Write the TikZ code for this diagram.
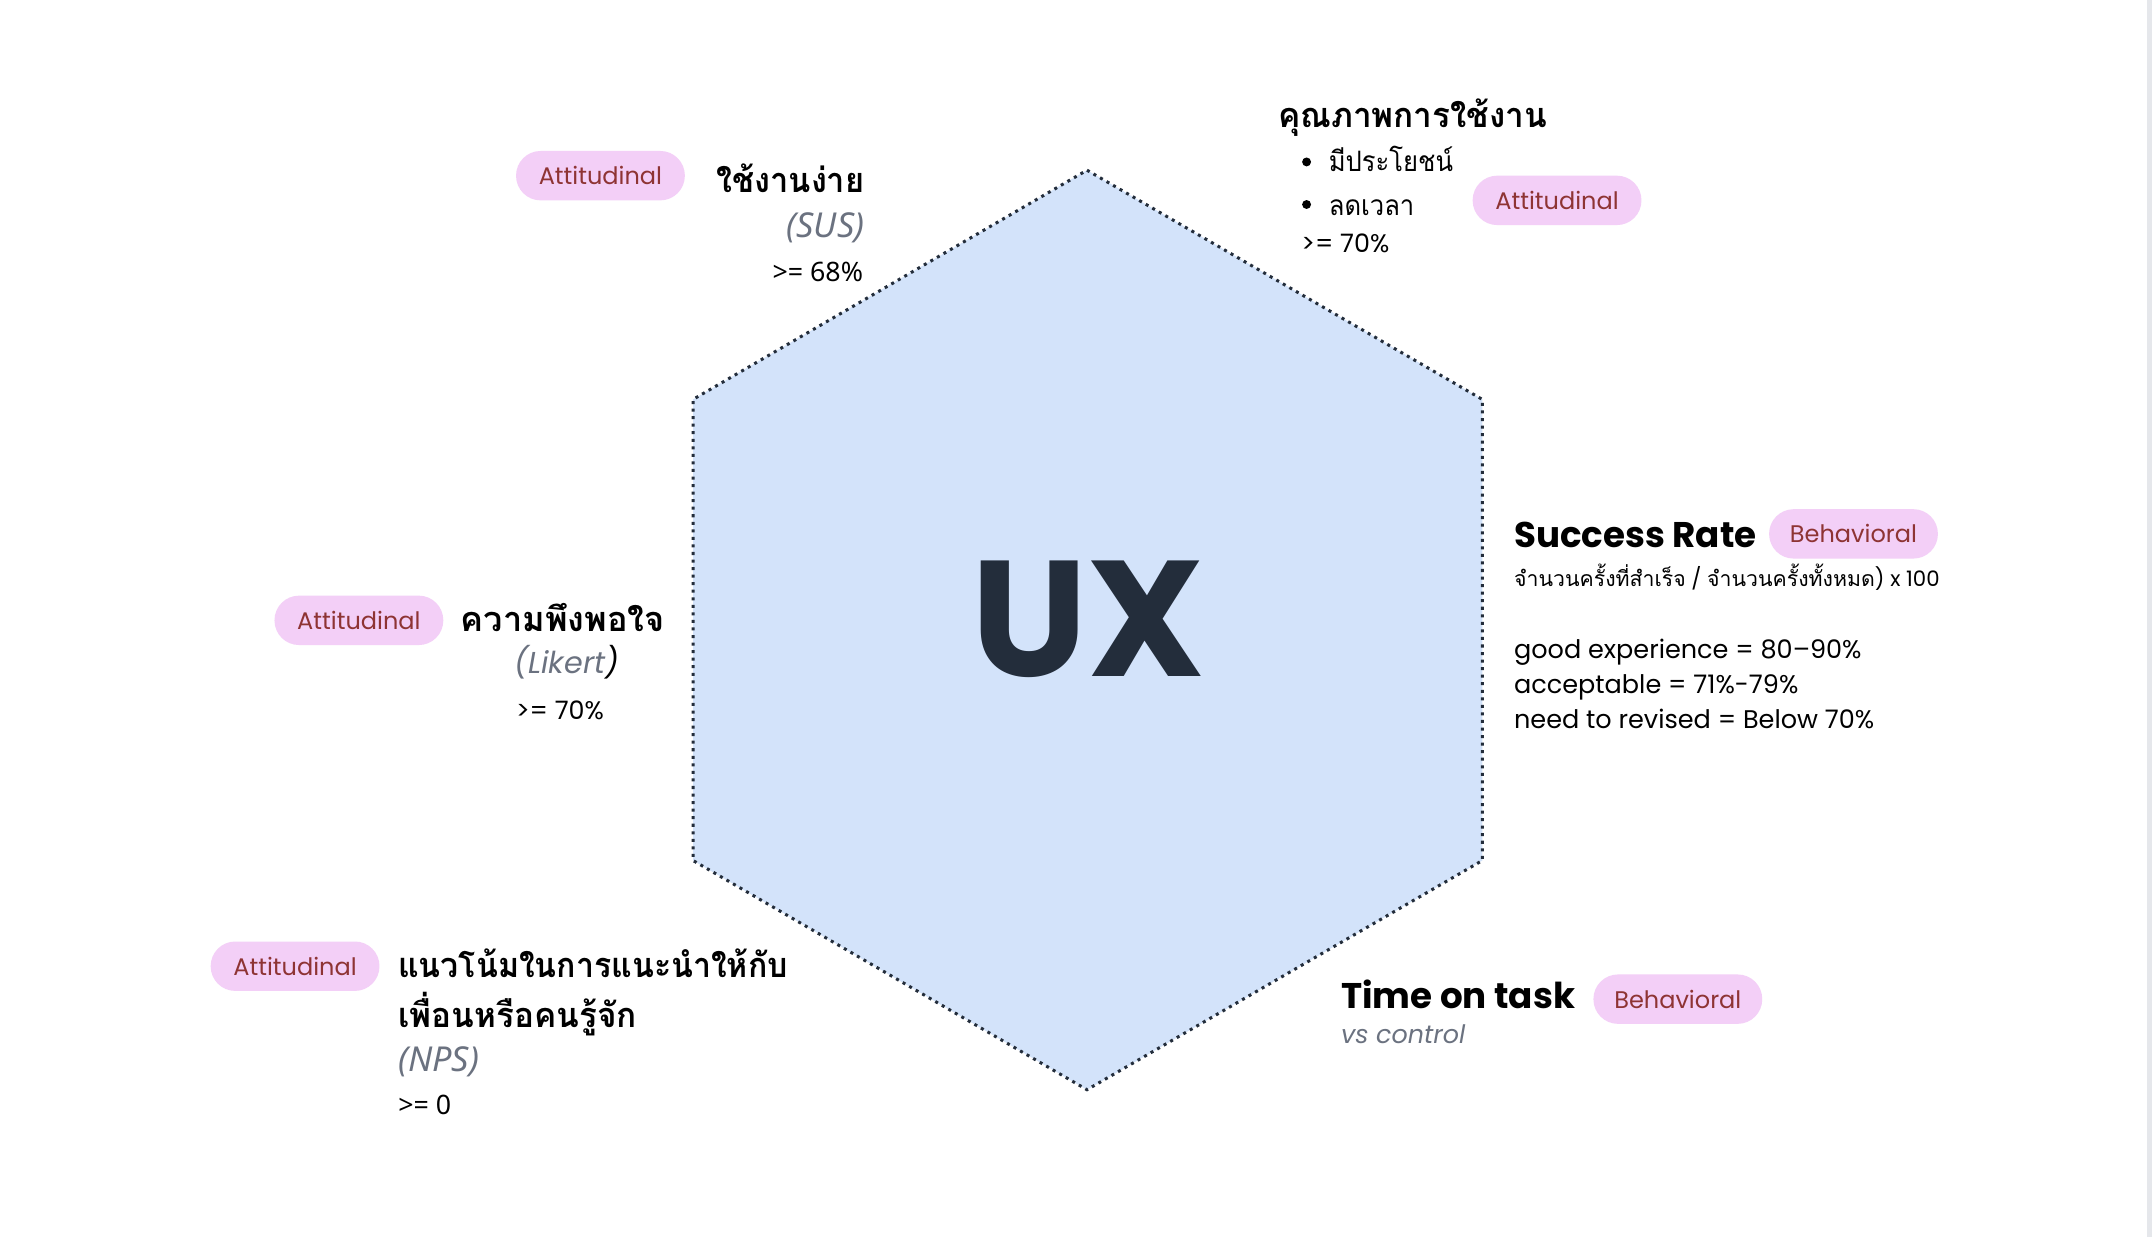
\documentclass[tikz,border=0pt]{standalone}
\usepackage{fontspec}
\setmainfont{Poppins}
\newfontfamily\thai[Script=Thai]{Loma}
\newfontfamily\noto{Noto Sans}
\definecolor{hexfill}{HTML}{D3E3FA}
\definecolor{hexline}{HTML}{232D3B}
\definecolor{uxcol}{HTML}{232D3B}
\definecolor{pillbg}{HTML}{F3CFF7}
\definecolor{pilltx}{HTML}{8E3434}
\definecolor{subgray}{HTML}{6B7280}
\definecolor{barg}{HTML}{E5E7EB}
\newcommand{\hsq}[2]{\scalebox{#1}[1]{#2}}
\begin{document}
\begin{tikzpicture}[x=1pt,y=-1pt,
  pill/.style={rectangle, rounded corners=17.9pt, fill=pillbg, text=pilltx, minimum height=36pt, minimum width=123pt, inner sep=0pt, font=\fontsize{17.5}{20}\selectfont},
  thtitle/.style={inner sep=0pt, font=\thai\bfseries\fontsize{25}{30}\selectfont},
  entitle/.style={inner sep=0pt, font=\bfseries\fontsize{26}{30}\selectfont},
  sub/.style={inner sep=0pt, text=subgray, font=\itshape\fontsize{22}{26}\selectfont},
  val/.style={inner sep=0pt, font=\fontsize{18.5}{22}\selectfont},
  body/.style={inner sep=0pt, font=\fontsize{18.6}{22}\selectfont},
  bulletdot/.style={circle, fill=black, inner sep=0pt, minimum size=6.5pt},
  hex/.style={fill=hexfill, draw=hexline, line width=2.2pt, dash pattern=on 2.2pt off 3.3pt},
]
\fill[white] (0,0) rectangle (1568,901);
\useasboundingbox (0,0) rectangle (1568,901);
\fill[barg] (1564.5,0) rectangle (1568,901);

% hexagon
\coordinate (h1) at (792,124);
\coordinate (h2) at (1080,291);
\coordinate (h3) at (1080,627);
\coordinate (h4) at (792,794);
\coordinate (h5) at (505,627);
\coordinate (h6) at (505,291);
\filldraw[hex] (h1) -- (h2) -- (h3) -- (h4) -- (h5) -- (h6) -- cycle;
\node[inner sep=0pt, text=uxcol, font=\bfseries\fontsize{120}{130}\selectfont] (ux) at (793,451) {UX};

% top-left: SUS
\node[pill] (p1) at (437.5,128) {Attitudinal};
\node[thtitle, anchor=base east] (t1) at (630,140) {\hsq{0.95}{ใช้งานง่าย}};
\node[sub, font=\noto\itshape\fontsize{25}{28}\selectfont, anchor=base east] (s1) at (630,173) {(SUS)};
\node[val, font=\noto\fontsize{19.5}{22}\selectfont, anchor=base east] (v1) at (629,205) {>= 68\%};

% top-right
\node[thtitle, anchor=base west] (t2) at (931,93) {\hsq{0.97}{คุณภาพการใช้งาน}};
\node[bulletdot] (d1) at (952,118) {};
\node[inner sep=0pt, anchor=base west, font=\thai\fontsize{20.5}{24}\selectfont] (b1) at (968,125) {\hsq{0.91}{มีประโยชน์}};
\node[bulletdot] (d2) at (952,149) {};
\node[inner sep=0pt, anchor=base west, font=\thai\fontsize{20.5}{24}\selectfont] (b2) at (968,157) {\hsq{0.91}{ลดเวลา}};
\node[val, anchor=base west] (v2) at (948,184) {>= 70\%};
\node[pill] (p2) at (1134.5,146) {Attitudinal};

% success rate
\node[entitle, anchor=base west] (t3) at (1103,399) {Success Rate};
\node[pill] (p3) at (1350.5,389) {Behavioral};
\node[inner sep=0pt, anchor=base west, font=\fontsize{15.5}{18}\selectfont] (f3) at (1103,427) {{\thai จำนวนครั้งที่สำเร็จ} / {\thai จำนวนครั้งทั้งหมด}) x 100};
\node[body, anchor=base west] (g3) at (1103,480) {good experience = 80–90\%};
\node[body, anchor=base west] (a3) at (1103,505) {acceptable = 71\%-79\%};
\node[body, anchor=base west] (n3) at (1103,531) {need to revised = Below 70\%};

% left middle: Likert
\node[pill] (p4) at (261.5,452) {Attitudinal};
\node[thtitle, anchor=base] (t4) at (410,460) {ความพึงพอใจ};
\node[sub, anchor=base] (s4) at (413,491) {(Likert\textcolor{black}{)}};
\node[val, anchor=base] (v4) at (408,524) {>= 70\%};

% bottom-left: NPS
\node[pill] (p5) at (215,704) {Attitudinal};
\node[thtitle, anchor=base west] (t5a) at (290,712) {\hsq{0.935}{แนวโน้มในการแนะนำให้กับ}};
\node[thtitle, anchor=base west] (t5b) at (290,749) {\hsq{0.97}{เพื่อนหรือคนรู้จัก}};
\node[sub, font=\noto\itshape\fontsize{25}{28}\selectfont, anchor=base west] (s5) at (290,781) {(NPS)};
\node[val, font=\noto\fontsize{19.5}{22}\selectfont, anchor=base west] (v5) at (290,812) {>= 0};

% time on task
\node[entitle, anchor=base west] (t6) at (977,735) {Time on task};
\node[pill] (p6) at (1222.5,728) {Behavioral};
\node[sub, font=\itshape\fontsize{18.5}{22}\selectfont, anchor=base west] (s6) at (977,760) {vs control};
\end{tikzpicture}
\end{document}
